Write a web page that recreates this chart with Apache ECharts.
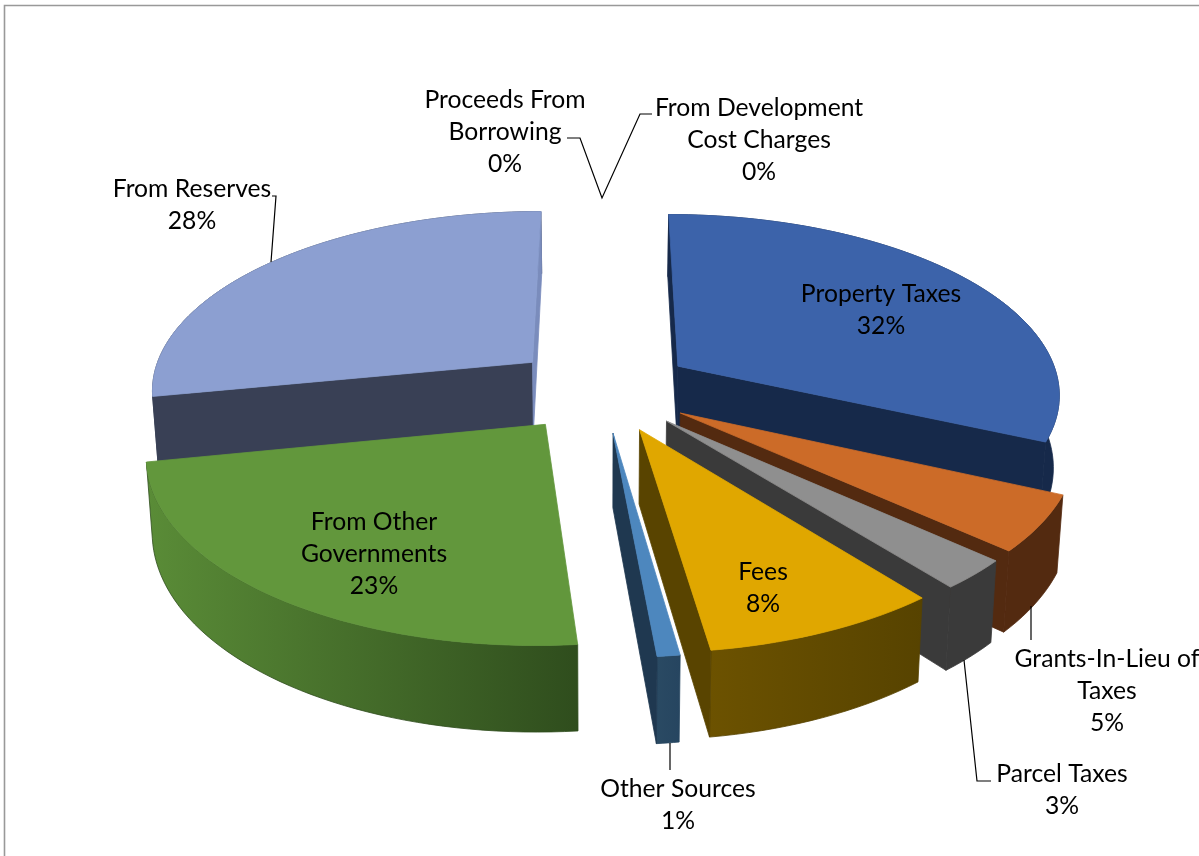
<!DOCTYPE html>
<html>
<head>
<meta charset="utf-8">
<style>html,body{margin:0;padding:0;background:#fff}#chart{width:1199px;height:856px}</style>
<script src="https://cdn.jsdelivr.net/npm/echarts@6/dist/echarts.min.js"></script>
</head>
<body>
<div id="chart"></div>
<script>
// ---- data ----
const categories = ['Property Taxes','Grants-In-Lieu of Taxes','Parcel Taxes','Fees','Other Sources','From Other Governments','From Reserves','Proceeds From Borrowing','From Development Cost Charges'];
const values = [31.8,4.9,2.6,8.45,0.8,23.35,28.1,0,0];
// ---- painter's order (back to front), by category index ----
const drawOrder = [6,0,1,2,3,4,5];
// ---- slice styling, by category index ----
const topColors = ['#3C63AA','#CC6B28','#8F8F8F','#E0A700','#4D87BE','#62973C','#8C9FD1'];
const startFaceColors = ['#16294A','#532A10','#3A3A3A','#594400','#1F3850','#3F6325','#394055'];
const endFaceColors = ['#16294A','#532A10','#3A3A3A','#594400','#1F3850','#3F6325','#7A8CBC'];
const wallLeft = ['#16294A','#532A10','#3A3A3A','#6C5200','#2A4A63','#5A8C37','#394055'];
const wallRight = ['#16294A','#532A10','#3A3A3A','#574300','#264560','#2F4D1D','#394055'];
// ---- text layout: lines, centre x, first-line centre y ----
const labelLines = [['Property Taxes'],['Grants-In-Lieu of','Taxes'],['Parcel Taxes'],['Fees'],['Other Sources'],['From Other','Governments'],['From Reserves'],['Proceeds From','Borrowing'],['From Development','Cost Charges']];
const labelAnchor = [[881,294],[1107,659],[1062,774],[763,572],[678,789],[374,522],[192,189],[505,100],[759,108]];
const leaderLines = [
  [[567,138],[580,138],[602,198],[640,114],[652,114]],
  [[272,196],[276,196],[271,262]],
  [[1031,606],[1031,640]],
  [[964,660],[977,781],[991,781]],
  [[670,743],[670,770]]
];
// ---- projection ----
const view = {cx:602, cy:389, r0:383, a:179, b:0.141, h:72, conv:0.013, explode:0.24};
function proj(X,Y,low){
  const s = 1/(1+view.b*Y);
  let x = view.cx + view.r0*X*s, y = view.cy - view.a*Y*s;
  if(low){ y += view.h*s; x = view.cx + (x-view.cx)*(1-view.conv); }
  return [x,y];
}
const total = values.reduce((p,c)=>p+c,0);
let acc = 0;
const spans = values.map(v=>{ const s=acc/total*Math.PI*2; acc+=v; return [s,acc/total*Math.PI*2]; });

function sliceShapes(i){
  const [t0,t1] = spans[i], m=(t0+t1)/2, e=view.explode;
  const ox=e*Math.sin(m), oy=e*Math.cos(m);
  const arc=[]; const n=Math.max(4,Math.ceil((t1-t0)/0.03));
  for(let k=0;k<=n;k++){ const t=t0+(t1-t0)*k/n; arc.push([ox+Math.sin(t),oy+Math.cos(t)]); }
  const top=arc.map(p=>proj(p[0],p[1],false)), low=arc.map(p=>proj(p[0],p[1],true));
  const a0=proj(ox,oy,false), a1=proj(ox,oy,true);
  return {
    top:[a0].concat(top),
    startFace:[a0,top[0],low[0],a1],
    endFace:[a0,top[n],low[n],a1],
    startVisible: top[0][0]<a0[0],
    endVisible: top[n][0]>a0[0],
    wall:top.concat(low.slice().reverse())
  };
}
const poly=(points,fill,stroke)=>({type:'polygon',shape:{points},style:{fill,stroke:stroke||null,lineWidth:stroke?0.8:0}});
function renderItem(params,api){
  const i=api.value(2), sh=sliceShapes(i);
  const kids=[poly(sh.wall,{type:'linear',x:0,y:0,x2:1,y2:0,colorStops:[{offset:0,color:wallLeft[i]},{offset:1,color:wallRight[i]}]},wallRight[i])];
  if(sh.startVisible) kids.push(poly(sh.startFace,startFaceColors[i],startFaceColors[i]));
  if(sh.endVisible) kids.push(poly(sh.endFace,endFaceColors[i],endFaceColors[i]));
  kids.push(poly(sh.top,topColors[i],topColors[i]));
  return {type:'group',children:kids};
}
const graphics=[
  {type:'polyline',z:1,shape:{points:[[4.5,856],[4.5,5.5],[1199,5.5]]},style:{stroke:'#999',lineWidth:1.6,fill:null}}
];
leaderLines.forEach(p=>graphics.push({type:'polyline',z:5,shape:{points:p},style:{stroke:'#000',lineWidth:1.2,fill:null}}));
categories.forEach((c,i)=>{
  labelLines[i].concat([Math.round(values[i])+'%']).forEach((t,k)=>{
    graphics.push({type:'text',z:10,x:labelAnchor[i][0],y:labelAnchor[i][1]+k*32,
      style:{text:t,fontFamily:'Lato',fontSize:24.7,fill:'#000',align:'center',verticalAlign:'middle'}});
  });
});
const chart=echarts.init(document.getElementById('chart'),null,{renderer:'canvas'});
chart.setOption({
  animation:false,
  backgroundColor:'#fff',
  xAxis:{show:false,min:0,max:1},yAxis:{show:false,min:0,max:1},
  grid:{left:0,right:0,top:0,bottom:0},
  graphic:{elements:graphics},
  series:[{type:'custom',coordinateSystem:'none',renderItem,z:3,silent:true,
    encode:{value:0},
    data:drawOrder.map(i=>({name:categories[i],value:[values[i],0,i]}))}]
});
</script>
</body>
</html>
